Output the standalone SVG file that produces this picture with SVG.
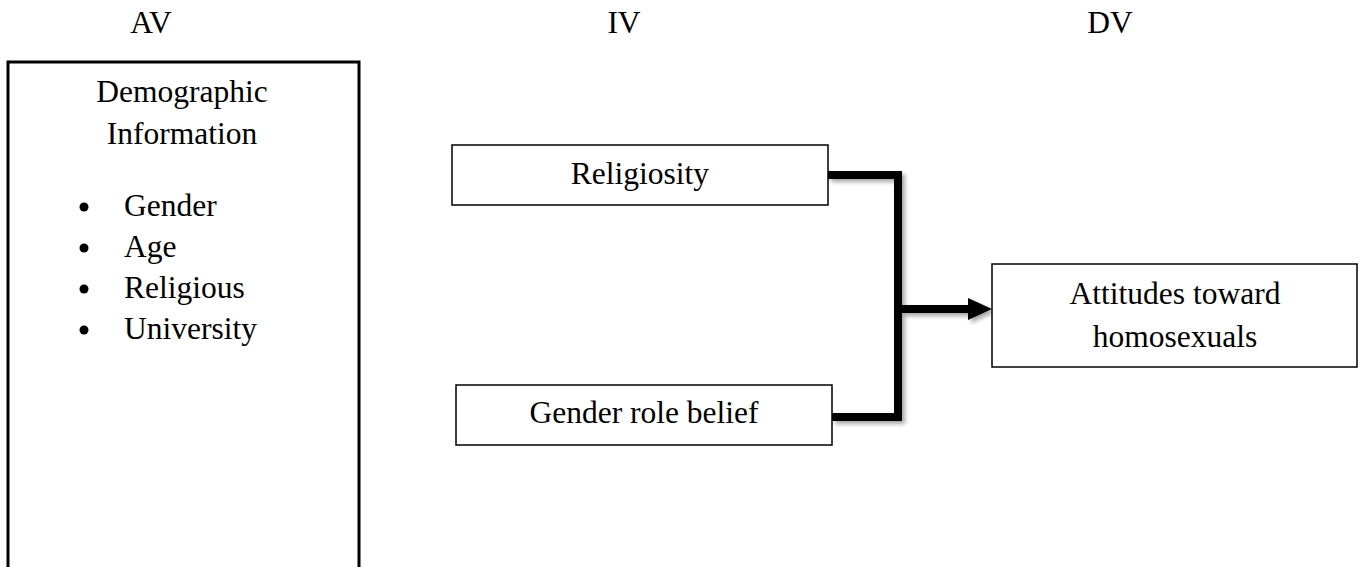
<svg xmlns="http://www.w3.org/2000/svg" width="1363" height="567" viewBox="0 0 1363 567">
<style>
text{font-family:"Liberation Serif","Times New Roman",serif;font-size:31.5px;fill:#000}
.c{text-anchor:middle}
.box{fill:#fff;stroke:#000;stroke-width:1.5}
.conn{fill:none;stroke:#000;stroke-width:8;stroke-linejoin:miter}
</style>
<defs>
<filter id="sh" x="-10%" y="-10%" width="130%" height="130%">
<feGaussianBlur in="SourceAlpha" stdDeviation="2"/>
<feOffset dx="3" dy="3" result="b"/>
<feComponentTransfer><feFuncA type="linear" slope="0.35"/></feComponentTransfer>
<feMerge><feMergeNode/><feMergeNode in="SourceGraphic"/></feMerge>
</filter>
</defs>
<rect width="1363" height="567" fill="#fff"/>
<g id="headers">
<text class="c" x="151" y="33">AV</text>
<text class="c" x="624" y="33">IV</text>
<text class="c" x="1110" y="33">DV</text>
</g>
<g id="demographic">
<rect x="8" y="62" width="351" height="510" fill="#fff" stroke="#000" stroke-width="3"/>
<text class="c" x="182" y="102">Demographic</text>
<text class="c" x="182" y="144">Information</text>
<circle cx="84" cy="207" r="4.5"/>
<circle cx="84" cy="248" r="4.5"/>
<circle cx="84" cy="289" r="4.5"/>
<circle cx="84" cy="330" r="4.5"/>
<text x="124" y="216">Gender</text>
<text x="124" y="257">Age</text>
<text x="124" y="298">Religious</text>
<text x="124" y="339">University</text>
</g>
<g id="connectors" filter="url(#sh)">
<polyline class="conn" points="828,175 898,175 898,417 832,417"/>
<line x1="898" y1="309" x2="970" y2="309" stroke="#000" stroke-width="8"/>
<polygon points="968,298 992,309 968,320"/>
</g>
<g id="religiosity">
<rect class="box" x="452" y="145" width="376" height="60"/>
<text class="c" x="640" y="184">Religiosity</text>
</g>
<g id="gender-role">
<rect class="box" x="456" y="385" width="376" height="60"/>
<text class="c" x="644" y="423">Gender role belief</text>
</g>
<g id="attitudes">
<rect class="box" x="992" y="264" width="365" height="103"/>
<text class="c" x="1175" y="304">Attitudes toward</text>
<text class="c" x="1175" y="347">homosexuals</text>
</g>
</svg>
